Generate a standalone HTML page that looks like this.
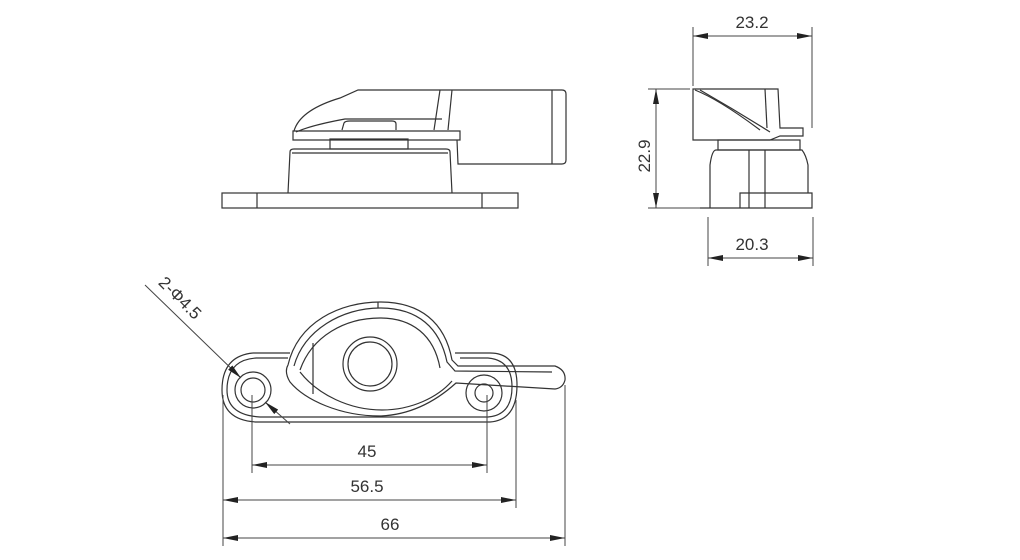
<!DOCTYPE html>
<html><head><meta charset="utf-8"><style>
html,body{margin:0;padding:0;background:#fff;}
svg{display:block;}
text{font-family:"Liberation Sans",sans-serif;font-size:17px;fill:#333;}
</style></head><body>
<svg width="1020" height="560" viewBox="0 0 1020 560" xmlns="http://www.w3.org/2000/svg">
<defs>
<marker id="a" viewBox="0 0 15 6" refX="15" refY="3" markerWidth="15" markerHeight="6" orient="auto-start-reverse" markerUnits="userSpaceOnUse">
<path d="M0,0 L15,3 L0,6 z" fill="#222"/></marker>
</defs>
<g fill="none" stroke="#333" stroke-width="1.2">
<!-- Front elevation -->
<rect x="222" y="193" width="296" height="15"/>
<line x1="257" y1="193" x2="257" y2="208"/>
<line x1="482" y1="193" x2="482" y2="208"/>
<path d="M288,193 L290,152 Q290,149 294,149 L446,149 Q450,149 450,152 L452,193"/>
<line x1="292" y1="153" x2="448" y2="153"/>
<rect x="330" y="139" width="78" height="10"/>
<path d="M293,140 L460,140 L460,131 L293,131 Z"/>
<path d="M294,131 Q300,110 340,98 L358,90 L562,90 Q566,90 566,94 L566,160 Q566,164 562,164 L458,164 L457,140"/>
<path d="M296,132 Q312,125 345,119 L442,119"/>
<path d="M342,130 L344,123 Q345,121 350,121 L392,121 Q396,121 396,124 L396,130"/>
<line x1="440" y1="90" x2="434" y2="130"/>
<line x1="452" y1="90" x2="448" y2="130"/>
<line x1="552" y1="90" x2="552" y2="164"/>
<!-- Side elevation -->
<path d="M693,89 L778,89 L780,128 L803,128 L803,136 L780,136 L770,140 L693,140 Z"/>
<path d="M695,90 Q720,100 760,130"/>
<path d="M700,90 Q735,110 770,132"/>
<line x1="765" y1="89" x2="767" y2="128"/>
<rect x="718" y="140" width="82" height="10"/>
<path d="M710,208 L710,165 Q712,150 716,150 L802,150 Q806,155 808,165 L808,193"/>
<line x1="749" y1="150" x2="749" y2="208"/>
<line x1="765" y1="150" x2="765" y2="208"/>
<path d="M740,208 L740,193 L812,193 L812,208 L700,208"/>
<!-- Plan view -->
<path d="M253,353 L290,353 M455,353 L490,353 Q517,353 517,385 Q517,420 490,422 L256,422 Q222,420 222,390 Q222,356 253,353"/>
<path d="M256,358 L288,358 M460,358 L488,358 Q512,360 512,387 Q512,415 488,417 L260,417 Q227,415 227,390 Q227,360 256,358"/>
<circle cx="253" cy="390" r="18"/>
<circle cx="253" cy="390" r="12"/>
<circle cx="484" cy="393" r="18"/>
<circle cx="484" cy="393" r="9"/>
<path d="M288,365 C298,322 340,302 380,302 C420,302 445,322 452,360 L458,366 L555,366 Q566,370 565,380 Q563,388 555,389 L456,383 C435,402 410,415 380,416 C340,416 305,400 290,382 Q284,372 288,365 Z"/>
<path d="M294,366 C304,330 342,308 380,308 C418,308 440,328 447,362 L455,371 L552,372"/>
<path d="M300,370 C312,336 345,318 380,318 C412,318 434,335 440,368"/>
<path d="M300,372 C318,395 350,410 382,410 C412,410 438,397 452,381"/>
<line x1="313" y1="343" x2="313" y2="394"/>
<line x1="378" y1="302" x2="378" y2="308"/>
<circle cx="370" cy="364" r="27"/>
<circle cx="370" cy="364" r="22"/>
<!-- dimension lines -->
<g stroke-width="1" stroke="#444">
<line x1="693" y1="27" x2="693" y2="86"/>
<line x1="812" y1="27" x2="812" y2="128"/>
<line x1="693" y1="36" x2="812" y2="36" marker-start="url(#a)" marker-end="url(#a)"/>
<line x1="648" y1="89" x2="690" y2="89"/>
<line x1="648" y1="208" x2="700" y2="208"/>
<line x1="656" y1="89" x2="656" y2="208" marker-start="url(#a)" marker-end="url(#a)"/>
<line x1="708" y1="217" x2="708" y2="266"/>
<line x1="813" y1="217" x2="813" y2="266"/>
<line x1="708" y1="258" x2="813" y2="258" marker-start="url(#a)" marker-end="url(#a)"/>
<line x1="252" y1="395" x2="252" y2="473"/>
<line x1="487" y1="395" x2="487" y2="473"/>
<line x1="516" y1="400" x2="516" y2="508"/>
<line x1="223" y1="395" x2="223" y2="546"/>
<line x1="565" y1="385" x2="565" y2="546"/>
<line x1="252" y1="465" x2="487" y2="465" marker-start="url(#a)" marker-end="url(#a)"/>
<line x1="223" y1="500" x2="516" y2="500" marker-start="url(#a)" marker-end="url(#a)"/>
<line x1="223" y1="538" x2="565" y2="538" marker-start="url(#a)" marker-end="url(#a)"/>
<line x1="145" y1="285" x2="241" y2="378" marker-end="url(#a)"/>
<line x1="265" y1="402" x2="290" y2="424" marker-start="url(#a)"/>
</g>
</g>
<text x="752" y="28" text-anchor="middle">23.2</text>
<text x="752" y="250" text-anchor="middle">20.3</text>
<text transform="translate(650,156) rotate(-90)" text-anchor="middle">22.9</text>
<text x="367" y="457" text-anchor="middle">45</text>
<text x="367" y="492" text-anchor="middle">56.5</text>
<text x="390" y="530" text-anchor="middle">66</text>
<text transform="translate(176,302) rotate(45)" text-anchor="middle">2-Φ4.5</text>
</svg>
</body></html>
